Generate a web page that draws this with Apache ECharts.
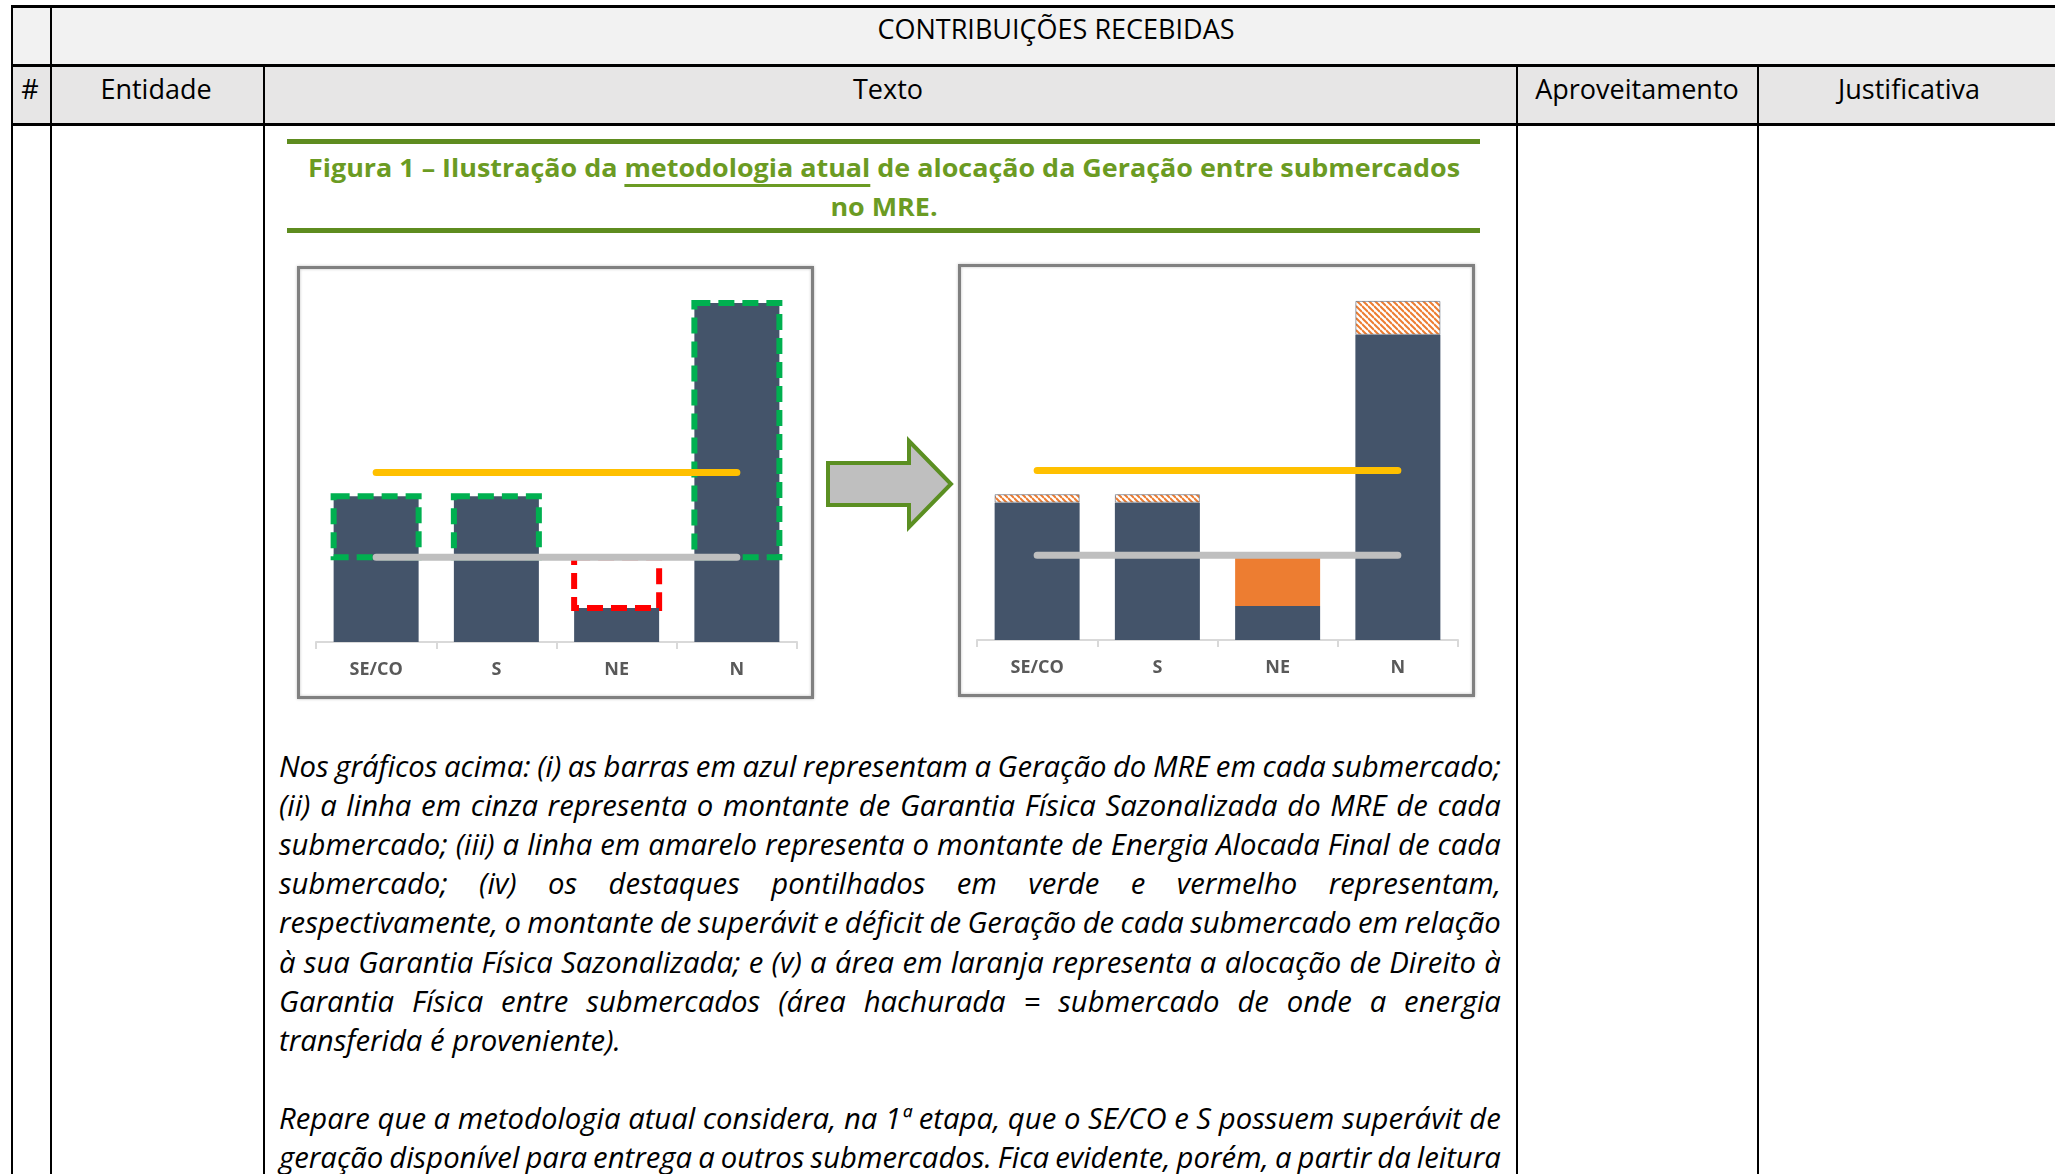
<!DOCTYPE html>
<html lang="pt-BR">
<head>
<meta charset="utf-8">
<title>Contribuições recebidas – Figura 1</title>
<script src="https://cdn.jsdelivr.net/npm/echarts@6/dist/echarts.min.js"></script>
<style>
  html, body { margin: 0; padding: 0; }
  body {
    width: 2055px; height: 1174px; overflow: hidden; position: relative;
    background: #fff; color: #000; font-family: 'Open Sans', sans-serif;
  }
  .abs { position: absolute; }
  .ln { position: absolute; background: #000; }
  .hd {
    position: absolute; font-size: 27px; line-height: 36px; white-space: nowrap;
    transform: translate(-50%, -50%);
  }
  .tit {
    position: absolute; left: 884px; white-space: nowrap; color: #6b9b23;
    font-weight: 700; font-size: 25px; line-height: 39px; transform-origin: 0 0;
  }
  .tit u { text-decoration-thickness: 3px; text-underline-offset: 7px; }
  .verde { position: absolute; left: 287px; width: 1193px; height: 5px; background: #5e8c1f; }
  .linha {
    position: absolute; left: 279px; height: 39.2px; line-height: 39.2px;
    font-style: italic; white-space: nowrap; transform-origin: 0 0;
  }
  .just { display: flex; justify-content: space-between; }
  #grafico { position: absolute; left: 0; top: 0; width: 2055px; height: 1174px; pointer-events: none; }
</style>
</head>
<body>
  <!-- cabeçalho da tabela -->
  <div class="abs" style="left:12px;top:7px;width:2043px;height:58px;background:#f2f2f2"></div>
  <div class="abs" style="left:12px;top:66px;width:2043px;height:58px;background:#e7e6e6"></div>

  <div class="ln" style="left:11px;top:5px;width:2044px;height:3px"></div>
  <div class="ln" style="left:11px;top:64px;width:2044px;height:3px"></div>
  <div class="ln" style="left:11px;top:123px;width:2044px;height:3px"></div>
  <div class="ln" style="left:11px;top:5px;width:2px;height:1169px"></div>
  <div class="ln" style="left:50px;top:5px;width:2px;height:1169px"></div>
  <div class="ln" style="left:263px;top:65px;width:1.5px;height:1109px"></div>
  <div class="ln" style="left:1516px;top:65px;width:1.5px;height:1109px"></div>
  <div class="ln" style="left:1757px;top:65px;width:1.5px;height:1109px"></div>

  <div class="hd" style="left:1056px;top:29px">CONTRIBUIÇÕES RECEBIDAS</div>
  <div class="hd" style="left:30px;top:89px">#</div>
  <div class="hd" style="left:156px;top:89px">Entidade</div>
  <div class="hd" style="left:888px;top:89px">Texto</div>
  <div class="hd" style="left:1637px;top:89px">Aproveitamento</div>
  <div class="hd" style="left:1909px;top:89px">Justificativa</div>

  <!-- título da figura -->
  <div class="verde" style="top:139px"></div>
  <div class="verde" style="top:228px"></div>
  <div class="tit" id="tit1" style="top:148px">Figura 1 – Ilustração da <u>metodologia atual</u> de alocação da Geração entre submercados</div>
  <div class="tit" id="tit2" style="top:187px">no MRE.</div>

  <div id="texto"></div>
  <div id="grafico"></div>

<script>
// ---- dados ----
const categorias = ['SE/CO', 'S', 'NE', 'N'];

// gráfico da esquerda: situação antes da alocação
const geracao = [43, 43, 10, 100];
const garantiaFisica = [25, 25, 25, 25];
const energiaAlocada = [50, 50, 50, 50];

// gráfico da direita: depois da alocação do Direito à Garantia Física
const geracaoRetida = [40.5, 40.5, 10, 90];
const direitoRecebido = ['-', '-', 15, '-'];
const energiaCedida = [2.5, 2.5, '-', 10];

const paragrafo = [
  { t: 'Nos gráficos acima: (i) as barras em azul representam a Geração do MRE em cada submercado;', j: true },
  { t: '(ii) a linha em cinza representa o montante de Garantia Física Sazonalizada do MRE de cada', j: true },
  { t: 'submercado; (iii) a linha em amarelo representa o montante de Energia Alocada Final de cada', j: true },
  { t: 'submercado; (iv) os destaques pontilhados em verde e vermelho representam,', j: true },
  { t: 'respectivamente, o montante de superávit e déficit de Geração de cada submercado em relação', j: true },
  { t: 'à sua Garantia Física Sazonalizada; e (v) a área em laranja representa a alocação de Direito à', j: true },
  { t: 'Garantia Física entre submercados (área hachurada = submercado de onde a energia', j: true },
  { t: 'transferida é proveniente).', j: false },
  { t: '', j: false },
  { t: 'Repare que a metodologia atual considera, na 1ª etapa, que o SE/CO e S possuem superávit de', j: true },
  { t: 'geração disponível para entrega a outros submercados. Fica evidente, porém, a partir da leitura', j: true }
];

const AZUL = '#44546a';
const LARGURA_BARRA = 85;

// ---- texto ----
const ctx = document.createElement('canvas').getContext('2d');
function medir(texto, fonte) {
  ctx.font = fonte;
  return ctx.measureText(texto).width;
}

function montarTitulo() {
  const fonte = 'bold 25px "Open Sans"';
  const w = medir('Figura 1 – Ilustração da metodologia atual de alocação da Geração entre submercados', fonte);
  const k = 1152 / w;
  ['tit1', 'tit2'].forEach(id => {
    const el = document.getElementById(id);
    const wl = medir(el.textContent, fonte);
    el.style.transform = 'translateX(' + (-wl * k / 2) + 'px) scaleX(' + k + ')';
  });
}

function montarParagrafo() {
  const box = document.getElementById('texto');
  const fs = 100 * 342 / medir('transferida é proveniente).', 'italic 100px "Open Sans"');
  const fonte = 'italic ' + fs + 'px "Open Sans"';
  const espaco = medir(' ', fonte);
  paragrafo.forEach((linha, i) => {
    if (!linha.t) return;
    const div = document.createElement('div');
    div.className = 'linha';
    div.style.top = (747 + i * 39.1) + 'px';
    div.style.fontSize = fs + 'px';
    if (linha.j) {
      const palavras = linha.t.split(' ');
      const soPalavras = palavras.reduce((s, p) => s + medir(p, fonte), 0);
      const minimo = soPalavras + (palavras.length - 1) * espaco * 0.7;
      const largura = Math.max(1222, minimo);
      div.classList.add('just');
      div.style.width = largura + 'px';
      if (largura > 1222) div.style.transform = 'scaleX(' + (1222 / largura) + ')';
      palavras.forEach(p => {
        const s = document.createElement('span');
        s.textContent = p;
        div.appendChild(s);
      });
    } else {
      div.textContent = linha.t;
    }
    box.appendChild(div);
  });
}

montarTitulo();
montarParagrafo();

// ---- gráficos ----
function hachura() {
  const c = document.createElement('canvas');
  c.width = 6; c.height = 6;
  const g = c.getContext('2d');
  g.fillStyle = '#fff';
  g.fillRect(0, 0, 6, 6);
  g.strokeStyle = '#ed7d31';
  g.lineWidth = 2;
  [-6, 0, 6].forEach(d => {
    g.beginPath();
    g.moveTo(0, d);
    g.lineTo(6, 6 + d);
    g.stroke();
  });
  return c;
}

function eixoX(i) {
  return {
    type: 'category', gridIndex: i, data: categorias,
    axisLine: { lineStyle: { color: '#d9d9d9', width: 2 } },
    axisTick: { show: true, length: 7, lineStyle: { color: '#d9d9d9', width: 2 } },
    axisLabel: { color: '#595959', fontFamily: 'Open Sans', fontWeight: 700, fontSize: 18, margin: 19 },
    splitLine: { show: false }
  };
}

function eixoY(i) {
  return { type: 'value', gridIndex: i, min: 0, max: 110, show: false };
}

function linha(nome, dados, cor, i) {
  return {
    name: nome, type: 'line', xAxisIndex: i, yAxisIndex: i, data: dados,
    symbol: 'none', z: 5,
    lineStyle: { color: cor, width: 7, cap: 'round' }
  };
}

const chart = echarts.init(document.getElementById('grafico'), null, { renderer: 'canvas' });
chart.setOption({
  animation: false,
  backgroundColor: 'transparent',
  grid: [
    { left: 316, top: 269, width: 481, height: 373, outerBoundsMode: 'none' },
    { left: 977, top: 267, width: 481, height: 373, outerBoundsMode: 'none' }
  ],
  xAxis: [eixoX(0), eixoX(1)],
  yAxis: [eixoY(0), eixoY(1)],
  graphic: [
    {
      type: 'rect', z: -10,
      shape: { x: 298.5, y: 267.5, width: 514, height: 430 },
      style: { fill: '#fff', stroke: '#808080', lineWidth: 3, shadowBlur: 3, shadowColor: 'rgba(0,0,0,0.25)' }
    },
    {
      type: 'rect', z: -10,
      shape: { x: 959.5, y: 265.5, width: 514, height: 430 },
      style: { fill: '#fff', stroke: '#808080', lineWidth: 3, shadowBlur: 3, shadowColor: 'rgba(0,0,0,0.25)' }
    },
    {
      type: 'polygon', z: 10,
      shape: { points: [[828, 463], [909, 463], [909, 441], [951, 484], [909, 527], [909, 505], [828, 505]] },
      style: { fill: '#bfbfbf', stroke: '#5b8f22', lineWidth: 4, lineJoin: 'miter' }
    }
  ],
  series: [
    {
      name: 'Geração', type: 'bar', xAxisIndex: 0, yAxisIndex: 0,
      data: geracao, barWidth: LARGURA_BARRA, itemStyle: { color: AZUL }, z: 2
    },
    {
      // destaques pontilhados: superávit (verde) e déficit (vermelho) em relação à GF
      name: 'Destaques', type: 'custom', xAxisIndex: 0, yAxisIndex: 0, z: 4,
      data: categorias.map((c, i) => [i, garantiaFisica[i], geracao[i]]),
      renderItem: function (params, api) {
        const i = api.value(0);
        const a = api.coord([i, api.value(1)]);
        const b = api.coord([i, api.value(2)]);
        const cor = api.value(2) > api.value(1) ? '#00b050' : '#ff0000';
        return {
          type: 'rect',
          shape: {
            x: a[0] - LARGURA_BARRA / 2, y: Math.min(a[1], b[1]),
            width: LARGURA_BARRA, height: Math.abs(a[1] - b[1])
          },
          style: { fill: 'none', stroke: cor, lineWidth: 6, lineDash: [16, 8] }
        };
      }
    },
    linha('Garantia Física Sazonalizada', garantiaFisica, '#bfbfbf', 0),
    linha('Energia Alocada Final', energiaAlocada, '#ffc000', 0),

    {
      name: 'Geração', type: 'bar', xAxisIndex: 1, yAxisIndex: 1, stack: 'alocacao',
      data: geracaoRetida, barWidth: LARGURA_BARRA, itemStyle: { color: AZUL }, z: 2
    },
    {
      name: 'Direito recebido', type: 'bar', xAxisIndex: 1, yAxisIndex: 1, stack: 'alocacao',
      data: direitoRecebido, barWidth: LARGURA_BARRA, itemStyle: { color: '#ed7d31' }, z: 2
    },
    {
      name: 'Energia cedida', type: 'bar', xAxisIndex: 1, yAxisIndex: 1, stack: 'alocacao',
      data: energiaCedida, barWidth: LARGURA_BARRA, z: 2,
      itemStyle: {
        color: { image: hachura(), repeat: 'repeat' },
        borderColor: 'rgba(68,84,106,0.55)', borderWidth: 1
      }
    },
    linha('Garantia Física Sazonalizada', garantiaFisica, '#bfbfbf', 1),
    linha('Energia Alocada Final', energiaAlocada, '#ffc000', 1)
  ]
});
</script>
</body>
</html>
